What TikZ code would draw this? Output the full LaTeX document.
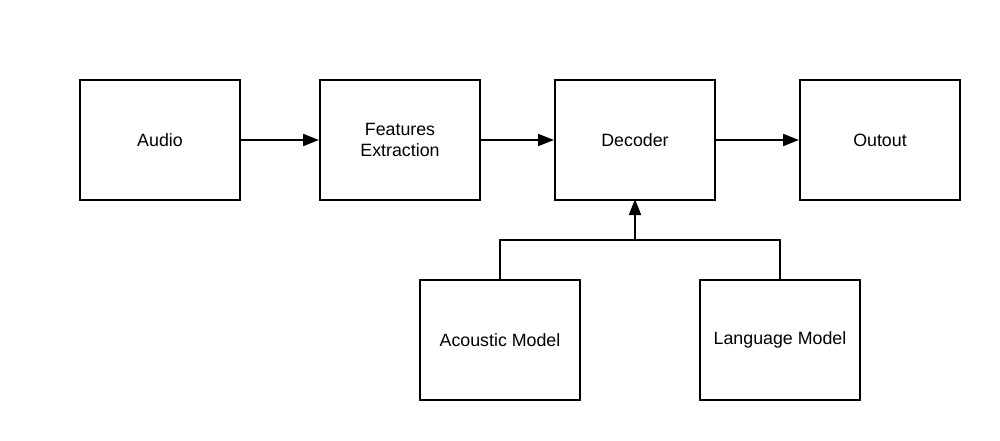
\documentclass[tikz,border=0pt]{standalone}
\usepackage{fontspec}
\setmainfont{Liberation Sans}
\usetikzlibrary{arrows.meta}
\begin{document}
\begin{tikzpicture}[x=1pt,y=-1pt,
  blk/.style={draw=black,line width=2pt,minimum width=160pt,minimum height=120pt,align=center,inner sep=0pt,
    font=\fontsize{17.8}{21.5}\selectfont},
  conn/.style={line width=2pt},
  arr/.style={conn,-{Triangle[length=16pt,width=12pt]}}]
\useasboundingbox (0,0) rectangle (1000,440);
\node[blk] (audio) at (160,140) {Audio};
\node[blk] (feat) at (400,140) {Features\\Extraction};
\node[blk] (dec) at (635,140) {Decoder};
\node[blk] (out) at (880,140) {Outout};
\node[blk] (ac) at (500,340) {Acoustic Model};
\node[blk] (lm) at (780,340) {Language Model};
\coordinate (j) at (635,240);
\draw[arr] (audio.east) -- (feat.west);
\draw[arr] (feat.east) -- (dec.west);
\draw[arr] (dec.east) -- (out.west);
\draw[conn] (ac.north) |- (lm.north |- j) -- (lm.north);
\draw[arr] (j) -- ([yshift=2pt]dec.south);
\end{tikzpicture}
\end{document}
